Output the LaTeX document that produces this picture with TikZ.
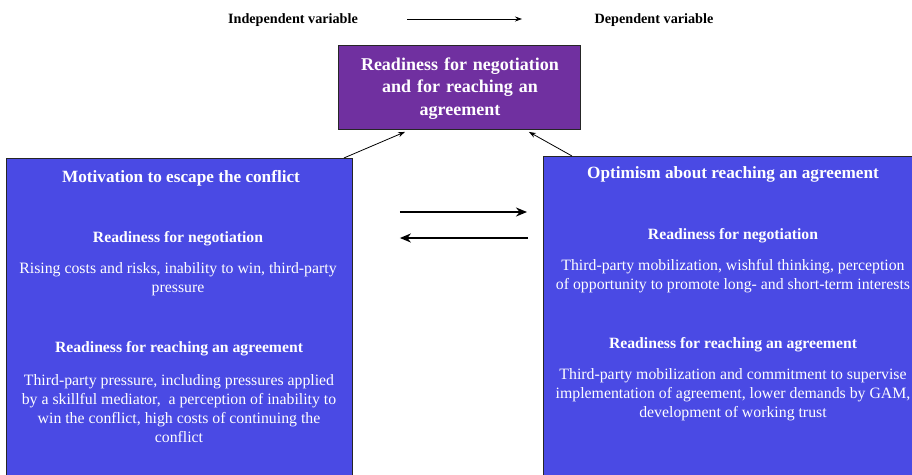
\documentclass[tikz,border=0pt]{standalone}
\usepackage{fontspec}
\setmainfont{Liberation Serif}
\usetikzlibrary{arrows.meta,positioning}

\definecolor{boxblue}{RGB}{74,74,228}
\definecolor{boxpurple}{RGB}{112,48,160}

\tikzset{
  factorbox/.style={draw=black!85, line width=0.9pt, fill=boxblue, anchor=north west, inner sep=0pt},
  headtext/.style={text=white, font=\bfseries\fontsize{17.2}{21}\selectfont, align=center},
  readytext/.style={text=white, font=\bfseries\fontsize{18}{22.5}\selectfont, align=center},
  subtext/.style={text=white, font=\bfseries\fontsize{15.7}{19}\selectfont, align=center},
  bodytext/.style={text=white, font=\fontsize{15.8}{19}\selectfont, align=center},
  legendtext/.style={font=\bfseries\fontsize{14.2}{16}\selectfont},
  thin arrow/.style={-{Stealth[length=7pt,width=5pt]}, line width=0.8pt},
  thick arrow/.style={-{Stealth[length=11pt,width=9pt]}, line width=2.6pt}
}

\begin{document}
\begin{tikzpicture}[x=1pt,y=-1pt]
  \useasboundingbox (0,0) rectangle (912,474);
  \clip (0,0) rectangle (912,474);

  % legend on top
  \node[legendtext] (indep) at (293,20) {Independent variable};
  \node[legendtext] (dep) at (654,20) {Dependent variable};
  \coordinate (legfrom) at (407,19);
  \coordinate (legto) at (522,19);
  \draw[thin arrow] (legfrom) -- (legto);

  % dependent variable
  \node[factorbox, fill=boxpurple, minimum width=242pt, minimum height=84pt] (ready) at (338,45) {};
  \node[readytext, text width=236pt] (readytxt) at (460,88.5) {Readiness for negotiation\\ and for reaching an\\ agreement};

  % independent variables
  \node[factorbox, minimum width=346pt, minimum height=330pt] (motiv) at (6,158) {};
  \node[factorbox, minimum width=385pt, minimum height=330pt] (optim) at (543,156) {};

  % left box texts
  \node[headtext] (motivhead) at (181,178) {Motivation to escape the conflict};
  \node[subtext] (motivneg) at (178,239) {Readiness for negotiation};
  \node[bodytext] (motivnegtxt) at (178,279) {Rising costs and risks, inability to win, third-party\\ pressure};
  \node[subtext] (motivagr) at (179,349) {Readiness for reaching an agreement};
  \node[bodytext] (motivagrtxt) at (179,408.5) {Third-party pressure, including pressures applied\\ by a skillful mediator, \ a perception of inability to\\ win the conflict, high costs of continuing the\\ conflict};

  % right box texts
  \node[headtext] (optimhead) at (733,174) {Optimism about reaching an agreement};
  \node[subtext] (optimneg) at (733,236) {Readiness for negotiation};
  \node[bodytext] (optimnegtxt) at (733,276) {Third-party mobilization, wishful thinking, perception\\ of opportunity to promote long- and short-term interests};
  \node[subtext] (optimagr) at (733,345) {Readiness for reaching an agreement};
  \node[bodytext] (optimagrtxt) at (733,395) {Third-party mobilization and commitment to supervise\\ implementation of agreement, lower demands by GAM,\\ development of working trust};

  % arrows
  \draw[thin arrow] ([xshift=-9pt]motiv.north east) -- ([xshift=67pt,yshift=-2pt]ready.south west);
  \draw[thin arrow] ([xshift=29pt]optim.north west) -- ([xshift=-52pt,yshift=-2pt]ready.south east);
  \draw[thick arrow] ([xshift=47pt,yshift=-54pt]motiv.north east) -- ([xshift=-16pt,yshift=-56pt]optim.north west);
  \draw[thick arrow] ([xshift=-15pt,yshift=-82pt]optim.north west) -- ([xshift=47pt,yshift=-80pt]motiv.north east);
\end{tikzpicture}
\end{document}
